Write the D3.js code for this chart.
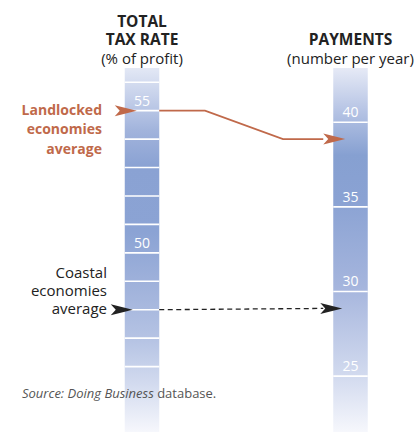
<!DOCTYPE html>
<html>
<head>
<meta charset="utf-8">
<script src="https://cdn.jsdelivr.net/npm/d3@7"></script>
<style>
	body { margin: 0; background: #fff; }
	svg text { font-family: "Open Sans", sans-serif; }
</style>
</head>
<body>
<svg id="chart" width="415" height="432"></svg>
<script>
// columns and their titles
let columns = ['tax', 'payments'];
let titles = [['TOTAL', 'TAX RATE'], ['PAYMENTS']];
let subtitles = ['(% of profit)', '(number per year)'];

// tick lines and labels on each bar
let taxLines = [56, 55, 54, 53, 52, 51, 50, 49, 48, 47, 46];
let taxLabels = [55, 50];
let paymentLines = [40, 35, 30, 25];
let paymentLabels = [40, 35, 30, 25];

// the two groups
let groups = [['Landlocked', 'economies', 'average'], ['Coastal', 'economies', 'average']];
let taxRate = [55, 48];
let payments = [39, 29];

let svg = d3.select('#chart');
let barTop = 68;
let barBottom = 432;

let x = d3.scalePoint()
	.domain(columns)
	.range([142, 350.5]);

let yTax = d3.scaleLinear()
	.domain([56.5, 43.7])
	.range([barTop, barBottom]);

let yPay = d3.scaleLinear()
	.domain([43.2, 21.7])
	.range([barTop, barBottom]);

let barW = 34.5;
let orange = '#c0694a';

// gradients
let defs = svg.append('defs');
function gradient(id, stops) {
	let g = defs.append('linearGradient')
		.attr('id', id)
		.attr('gradientUnits', 'userSpaceOnUse')
		.attr('x1', 0).attr('x2', 0)
		.attr('y1', barTop).attr('y2', barBottom);
	g.selectAll('stop')
		.data(stops)
		.enter()
		.append('stop')
		.attr('offset', d => d[0])
		.attr('stop-color', d => d[1]);
}
gradient('gradTax', [[0, '#e3e8f5'], [0.08, '#c5d0ea'], [0.17, '#a2b4dc'], [0.27, '#8aa2d3'], [0.45, '#8ba3d4'], [0.6, '#a0b2db'], [0.75, '#b6c4e4'], [0.87, '#d3dbef'], [1, '#f6f7fc']]);
gradient('gradPay', [[0, '#e6eaf6'], [0.12, '#b5c3e4'], [0.24, '#86a0d1'], [0.36, '#8aa2d3'], [0.6, '#a5b5dd'], [0.85, '#d3dbef'], [1, '#f6f7fc']]);

// bars
svg.append('rect')
	.attr('x', x('tax') - barW / 2)
	.attr('y', yTax(yTax.domain()[0]))
	.attr('width', barW)
	.attr('height', yTax(yTax.domain()[1]) - yTax(yTax.domain()[0]))
	.attr('fill', 'url(#gradTax)');

svg.append('rect')
	.attr('x', x('payments') - barW / 2)
	.attr('y', yPay(yPay.domain()[0]))
	.attr('width', barW)
	.attr('height', yPay(yPay.domain()[1]) - yPay(yPay.domain()[0]))
	.attr('fill', 'url(#gradPay)');

// tick lines
svg.selectAll('.taxline')
	.data(taxLines)
	.enter()
	.append('line')
	.attr('x1', x('tax') - barW / 2)
	.attr('x2', x('tax') + barW / 2)
	.attr('y1', d => yTax(d))
	.attr('y2', d => yTax(d))
	.attr('stroke', '#fff')
	.attr('stroke-width', 1.6);

svg.selectAll('.payline')
	.data(paymentLines)
	.enter()
	.append('line')
	.attr('x1', x('payments') - barW / 2)
	.attr('x2', x('payments') + barW / 2)
	.attr('y1', d => yPay(d))
	.attr('y2', d => yPay(d))
	.attr('stroke', '#fff')
	.attr('stroke-width', 1.6);

// tick labels
svg.selectAll('.taxlabel')
	.data(taxLabels)
	.enter()
	.append('text')
	.attr('x', x('tax'))
	.attr('y', d => yTax(d) - 5)
	.attr('text-anchor', 'middle')
	.attr('fill', '#fff')
	.style('font-size', '14px')
	.text(d => d);

svg.selectAll('.paylabel')
	.data(paymentLabels)
	.enter()
	.append('text')
	.attr('x', x('payments'))
	.attr('y', d => yPay(d) - 5)
	.attr('text-anchor', 'middle')
	.attr('fill', '#fff')
	.style('font-size', '14px')
	.text(d => d);

// titles
titles.forEach((t, i) => {
	svg.append('text')
		.attr('x', x(columns[i]))
		.attr('y', 45 - (t.length - 1) * 18)
		.attr('text-anchor', 'middle')
		.attr('fill', '#222')
		.style('font-size', '15.5px')
		.style('font-weight', 'bold')
		.selectAll('tspan')
		.data(t)
		.enter()
		.append('tspan')
		.attr('x', x(columns[i]))
		.attr('dy', (d, j) => j == 0 ? 0 : 18)
		.text(d => d);

	svg.append('text')
		.attr('x', x(columns[i]))
		.attr('y', 64)
		.attr('text-anchor', 'middle')
		.attr('fill', '#222')
		.style('font-size', '15px')
		.text(subtitles[i]);
});

// arrowhead shape, tip at origin
let dart = 'M0,0 L-22,-5.5 L-17,0 L-22,5.5 Z';

// group labels
groups.forEach((g, i) => {
	let yy = yTax(taxRate[i]);
	let landlocked = i == 0;
	svg.append('text')
		.attr('text-anchor', 'end')
		.attr('fill', landlocked ? orange : '#222')
		.style('font-size', landlocked ? '14px' : '15px')
		.style('font-weight', landlocked ? 'bold' : 'normal')
		.selectAll('tspan')
		.data(g)
		.enter()
		.append('tspan')
		.attr('x', landlocked ? 102 : 107)
		.attr('y', (d, j) => landlocked ? yy + 4 + j * 19.5 : yy + 4 - (2 - j) * 18)
		.text(d => d);

	svg.append('path')
		.attr('d', dart)
		.attr('transform', 'translate(' + (x('tax') - barW / 2 + (landlocked ? 12 : 8)) + ',' + yy + ')')
		.attr('fill', landlocked ? orange : '#222');
});

// connectors
let xl = x('tax') + barW / 2;
let xr = x('payments') - barW / 2;

let land = [
	[xl, yTax(taxRate[0])],
	[205, yTax(taxRate[0])],
	[283, yPay(payments[0])],
	[xr - 10, yPay(payments[0])]
];
svg.append('path')
	.attr('d', d3.line()(land))
	.attr('fill', 'none')
	.attr('stroke', orange)
	.attr('stroke-width', 1.8);
svg.append('path')
	.attr('d', dart)
	.attr('transform', 'translate(' + (xr + 12) + ',' + yPay(payments[0]) + ')')
	.attr('fill', orange);

svg.append('line')
	.attr('x1', xl)
	.attr('x2', xr - 10)
	.attr('y1', yTax(taxRate[1]))
	.attr('y2', yPay(payments[1]))
	.attr('stroke', '#222')
	.attr('stroke-width', 1.3)
	.attr('stroke-dasharray', '5,3.5');
svg.append('path')
	.attr('d', dart)
	.attr('transform', 'translate(' + (xr + 9) + ',' + yPay(payments[1]) + ')')
	.attr('fill', '#222');

// source note
let src = svg.append('text')
	.attr('x', 22)
	.attr('y', 398)
	.attr('fill', '#555')
	.style('font-size', '13px');
src.append('tspan')
	.style('font-style', 'italic')
	.text('Source: Doing Business');
src.append('tspan')
	.text(' database.');
</script>
</body>
</html>
